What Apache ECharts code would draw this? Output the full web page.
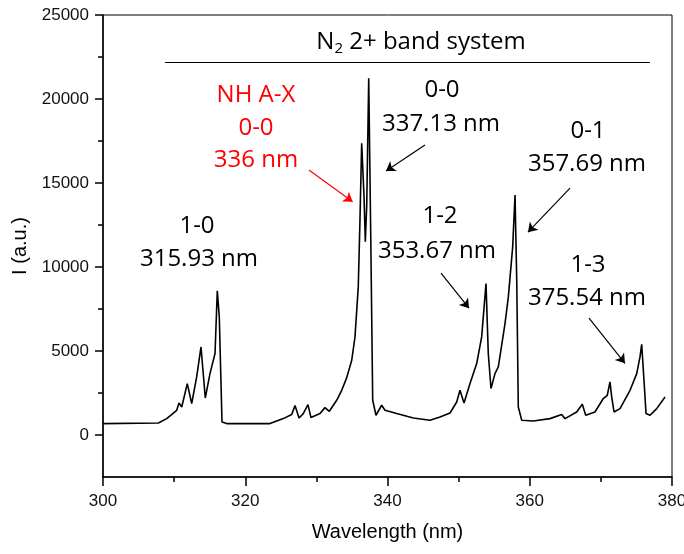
<!DOCTYPE html>
<html>
<head>
<meta charset="utf-8">
<script src="https://cdn.jsdelivr.net/npm/echarts@6/dist/echarts.min.js"></script>
<style>
  html, body { margin: 0; padding: 0; background: #fff; }
  #chart { width: 684px; height: 554px; }
</style>
</head>
<body>
<div id="chart"></div>
<script>
// spectrum
var wavelength = [
    300.0, 307.78, 308.96, 310.36, 310.69, 311.07, 311.85, 312.47, 313.17, 313.78,
    314.38, 315.04, 315.75, 316.07, 316.35, 316.73, 317.39, 323.48, 325.35, 326.53,
    327.0, 327.56, 328.16, 328.82, 329.24, 330.51, 331.21, 331.82, 332.86, 333.56,
    334.26, 334.97, 335.43, 335.89, 336.13, 336.37, 336.70, 336.88, 337.08, 337.36,
    337.64, 337.92, 338.38, 339.18, 339.65, 341.29, 343.63, 345.98, 347.38, 348.79,
    349.73, 350.19, 350.76, 351.60, 352.54, 353.24, 353.85, 354.17, 354.55, 355.11,
    355.58, 356.52, 356.99, 357.60, 357.93, 358.17, 358.39, 358.87, 360.50, 362.85,
    364.49, 364.96, 366.60, 367.39, 367.87, 369.17, 370.34, 370.90, 371.28, 371.52,
    371.85, 372.69, 374.10, 375.04, 375.50, 375.74, 376.06, 376.35, 376.91, 377.85,
    379.02
];
var intensity = [
    680, 715, 975, 1470, 1906, 1670, 3060, 1870, 3455, 5240,
    2200, 3655, 4850, 8580, 7030, 775, 680, 680, 975, 1215,
    1750, 1013, 1275, 1810, 1036, 1275, 1630, 1410, 2067, 2660,
    3400, 4450, 5838, 8816, 12790, 17360, 14180, 11500, 13680, 21230,
    12000, 2067, 1175, 1770, 1470, 1275, 1013, 875, 1070, 1310,
    1965, 2660, 1906, 3060, 4250, 5840, 9020, 4850, 2765, 3655,
    4050, 6635, 8220, 11200, 14280, 9215, 1670, 875, 835, 975,
    1215, 975, 1370, 1830, 1175, 1370, 2170, 2365, 3160, 2265,
    1370, 1570, 2660, 3655, 4650, 5400, 3260, 1275, 1175, 1570,
    2265
];
var yMajorTicks = [0, 5000, 10000, 15000, 20000, 25000];
var yMinorTicks = [2500, 7500, 12500, 17500, 22500];

// arrows: [start, end] in data coordinates
var arrows = [
    { from: [328.96, 15770], to: [335.10, 13880], color: "#ff0000" },
    { from: [345.27, 17260], to: [339.79, 15710], color: "#000" },
    { from: [365.66, 14700], to: [359.75, 12075], color: "#000" },
    { from: [347.52, 9630], to: [351.46, 7550], color: "#000" },
    { from: [368.33, 6950], to: [373.39, 4270], color: "#000" }
];
var bandLine = [[308.7, 22200], [376.9, 22200]];

// annotation texts: [text, x, y, color]
var notes = [
    ["1-0", 197, 226, "#000"],
    ["315.93 nm", 199, 259, "#000"],
    ["NH A-X", 256, 95, "#ff0000"],
    ["0-0", 256, 128, "#ff0000"],
    ["336 nm", 256, 160, "#ff0000"],
    ["0-0", 442, 90, "#000"],
    ["337.13 nm", 441, 124, "#000"],
    ["0-1", 588, 131, "#000"],
    ["357.69 nm", 587, 164, "#000"],
    ["1-2", 440, 216, "#000"],
    ["353.67 nm", 437, 251, "#000"],
    ["1-3", 588, 265, "#000"],
    ["375.54 nm", 587, 298, "#000"]
];

var chart = {
    init: function () {
        var mychart = echarts.init(document.getElementById("chart"));
        var pts = wavelength.map(function (w, i) {
            return [w, intensity[i]];
        });
        var lines = arrows.map(function (a) {
            return [
                { coord: a.from, symbol: "none", lineStyle: { color: a.color } },
                { coord: a.to, symbol: "arrow", lineStyle: { color: a.color } }
            ];
        });
        lines.push([
            { coord: bandLine[0], symbol: "none" },
            { coord: bandLine[1], symbol: "none" }
        ]);
        var graphics = notes.map(function (n) {
            return {
                type: "text",
                x: n[1],
                y: n[2],
                silent: true,
                style: {
                    text: n[0],
                    fill: n[3],
                    font: "24px 'Open Sans'",
                    textAlign: "center",
                    textVerticalAlign: "middle"
                }
            };
        });
        graphics.push({
            type: "text",
            x: 421,
            y: 42,
            silent: true,
            style: {
                text: "{a|N}{b|2}{a| 2+ band system}",
                fill: "#000",
                textAlign: "center",
                textVerticalAlign: "middle",
                rich: {
                    a: { fontFamily: "Open Sans", fontSize: 24, lineHeight: 30, verticalAlign: "middle" },
                    b: { fontFamily: "Open Sans", fontSize: 15, lineHeight: 30, padding: [14, 0, 0, 0] }
                }
            }
        });
        var axisFont = "Liberation Sans";
        var plain = function (v) { return String(v); };
        var option = {
            animation: false,
            grid: {
                left: 103,
                right: 12,
                top: 15,
                bottom: 77,
                show: true,
                borderColor: "#000",
                borderWidth: 1,
                containLabel: false,
                outerBoundsMode: "none"
            },
            xAxis: {
                type: "value",
                min: 300,
                max: 380,
                interval: 20,
                name: "Wavelength (nm)",
                nameLocation: "middle",
                nameGap: 45,
                nameTextStyle: { fontFamily: axisFont, fontSize: 20, color: "#000" },
                axisLine: { onZero: false, lineStyle: { color: "#000", width: 1.5 } },
                axisTick: { length: 9, lineStyle: { color: "#000", width: 1.5 } },
                minorTick: { show: true, splitNumber: 2, length: 5, lineStyle: { color: "#000", width: 1.5 } },
                axisLabel: { fontFamily: axisFont, fontSize: 17, color: "#111", margin: 16, formatter: plain },
                splitLine: { show: false }
            },
            yAxis: [
                {
                    type: "value",
                    min: -2500,
                    max: 25000,
                    name: "I (a.u.)",
                    nameLocation: "middle",
                    nameGap: 71,
                    nameTextStyle: { fontFamily: axisFont, fontSize: 20, color: "#000" },
                    axisLine: { show: true, onZero: false, lineStyle: { color: "#000", width: 1.5 } },
                    axisTick: { show: true, length: 8, customValues: yMajorTicks, lineStyle: { color: "#000", width: 1.5 } },
                    axisLabel: { fontFamily: axisFont, fontSize: 17, color: "#111", margin: 14, customValues: yMajorTicks, formatter: plain },
                    splitLine: { show: false }
                },
                {
                    type: "value",
                    position: "right",
                    offset: -569,
                    min: -2500,
                    max: 25000,
                    axisLine: { show: false, onZero: false },
                    axisTick: { show: true, inside: true, length: 5, customValues: yMinorTicks, lineStyle: { color: "#000", width: 1.5 } },
                    axisLabel: { show: false },
                    splitLine: { show: false }
                }
            ],
            series: [
                {
                    type: "line",
                    data: pts,
                    showSymbol: false,
                    symbol: "none",
                    lineStyle: { color: "#000", width: 1.6 },
                    markLine: {
                        silent: true,
                        animation: false,
                        symbolSize: 9,
                        label: { show: false },
                        lineStyle: { color: "#000", width: 1.2, type: "solid" },
                        data: lines
                    }
                }
            ],
            graphic: graphics
        };
        mychart.setOption(option);
    }
};

chart.init();
</script>
</body>
</html>
